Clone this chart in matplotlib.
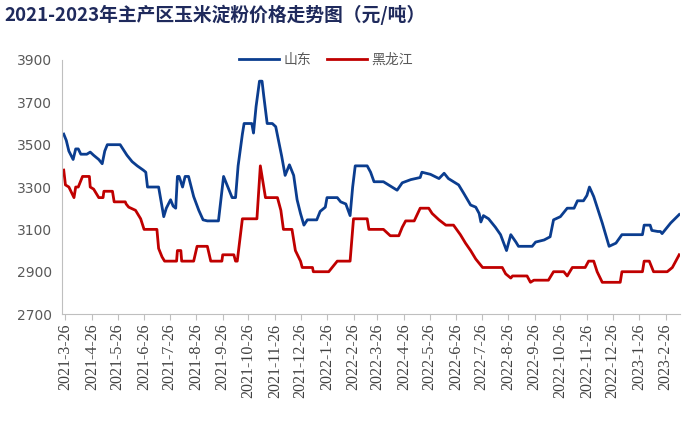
import matplotlib
matplotlib.use("Agg")
import matplotlib.pyplot as plt
import pandas as pd

plt.rcParams['font.family'] = ['Noto Sans CJK SC', 'DejaVu Sans']

title = "2021-2023年主产区玉米淀粉价格走势图（元/吨）"
series_names = ["山东", "黑龙江"]

sd_dates = ["2021-03-24", "2021-03-27", "2021-03-30", "2021-04-04", "2021-04-07", "2021-04-10",
            "2021-04-13", "2021-04-20", "2021-04-24", "2021-04-28", "2021-05-04", "2021-05-08",
            "2021-05-11", "2021-05-14", "2021-05-29", "2021-06-06", "2021-06-12", "2021-06-18",
            "2021-06-25", "2021-06-28", "2021-06-30", "2021-07-13", "2021-07-19", "2021-07-22",
            "2021-07-27", "2021-07-30", "2021-08-02", "2021-08-04", "2021-08-06", "2021-08-10",
            "2021-08-13", "2021-08-17", "2021-08-23", "2021-08-29", "2021-09-03", "2021-09-08",
            "2021-09-21", "2021-09-27", "2021-10-07", "2021-10-11", "2021-10-14", "2021-10-19",
            "2021-10-21", "2021-10-30", "2021-11-01", "2021-11-04", "2021-11-08", "2021-11-11",
            "2021-11-13", "2021-11-17", "2021-11-23", "2021-11-27", "2021-12-01", "2021-12-04",
            "2021-12-08", "2021-12-13", "2021-12-18", "2021-12-22", "2021-12-26", "2021-12-30",
            "2022-01-03", "2022-01-14", "2022-01-18", "2022-01-24", "2022-01-26", "2022-02-07",
            "2022-02-11", "2022-02-17", "2022-02-22", "2022-02-25", "2022-02-28", "2022-03-14",
            "2022-03-18", "2022-03-22", "2022-04-02", "2022-04-12", "2022-04-18", "2022-04-24",
            "2022-05-04", "2022-05-15", "2022-05-17", "2022-05-27", "2022-06-06", "2022-06-12",
            "2022-06-17", "2022-06-23", "2022-06-29", "2022-07-05", "2022-07-13", "2022-07-19",
            "2022-07-23", "2022-07-25", "2022-07-28", "2022-08-03", "2022-08-11", "2022-08-17",
            "2022-08-24", "2022-08-29", "2022-09-04", "2022-09-07", "2022-09-23", "2022-09-27",
            "2022-10-07", "2022-10-14", "2022-10-18", "2022-10-26", "2022-11-03", "2022-11-11",
            "2022-11-15", "2022-11-22", "2022-11-26", "2022-11-29", "2022-12-04", "2022-12-08",
            "2022-12-14", "2022-12-18", "2022-12-22", "2022-12-30", "2023-01-06", "2023-01-30",
            "2023-02-01", "2023-02-08", "2023-02-10", "2023-02-17", "2023-02-20", "2023-02-22",
            "2023-03-04", "2023-03-14"]
sd_values = [3550, 3520, 3470, 3430, 3480, 3480,
             3455, 3455, 3465, 3450, 3430, 3410,
             3470, 3500, 3500, 3450, 3420, 3400,
             3380, 3370, 3300, 3300, 3160, 3200,
             3240, 3210, 3200, 3350, 3350, 3300,
             3350, 3350, 3255, 3190, 3145, 3140,
             3140, 3350, 3250, 3250, 3400, 3550,
             3600, 3600, 3555, 3680, 3800, 3800,
             3730, 3600, 3600, 3585, 3505, 3445,
             3355, 3405, 3355, 3240, 3175, 3120,
             3145, 3145, 3185, 3205, 3250, 3250,
             3230, 3220, 3165, 3300, 3400, 3400,
             3370, 3325, 3325, 3300, 3285, 3320,
             3335, 3345, 3370, 3360, 3340, 3365,
             3340, 3325, 3310, 3270, 3215, 3205,
             3175, 3135, 3165, 3150, 3110, 3075,
             3000, 3075, 3040, 3020, 3020, 3040,
             3050, 3065, 3145, 3160, 3200, 3200,
             3235, 3235, 3260, 3300, 3255, 3205,
             3130, 3075, 3020, 3035, 3075, 3075,
             3120, 3120, 3095, 3090, 3090, 3080,
             3130, 3170]

hlj_dates = ["2021-03-24", "2021-03-26", "2021-03-30", "2021-04-05", "2021-04-07", "2021-04-10",
             "2021-04-15", "2021-04-23", "2021-04-24", "2021-04-28", "2021-05-04", "2021-05-09",
             "2021-05-10", "2021-05-20", "2021-05-22", "2021-06-04", "2021-06-05", "2021-06-08",
             "2021-06-16", "2021-06-22", "2021-06-26", "2021-07-11", "2021-07-13", "2021-07-17",
             "2021-07-20", "2021-08-03", "2021-08-04", "2021-08-08", "2021-08-09", "2021-08-23",
             "2021-08-27", "2021-09-08", "2021-09-12", "2021-09-25", "2021-09-26", "2021-10-09",
             "2021-10-11", "2021-10-13", "2021-10-19", "2021-11-05", "2021-11-09", "2021-11-15",
             "2021-11-29", "2021-12-03", "2021-12-06", "2021-12-16", "2021-12-20", "2021-12-26",
             "2021-12-28", "2022-01-09", "2022-01-10", "2022-01-28", "2022-02-07", "2022-02-22",
             "2022-02-26", "2022-03-14", "2022-03-16", "2022-04-02", "2022-04-10", "2022-04-20",
             "2022-04-24", "2022-04-28", "2022-05-08", "2022-05-15", "2022-05-25", "2022-05-29",
             "2022-06-06", "2022-06-14", "2022-06-23", "2022-07-01", "2022-07-07", "2022-07-13",
             "2022-07-19", "2022-07-27", "2022-08-19", "2022-08-23", "2022-08-29", "2022-08-31",
             "2022-09-17", "2022-09-21", "2022-09-25", "2022-10-12", "2022-10-18", "2022-10-30",
             "2022-11-03", "2022-11-09", "2022-11-24", "2022-11-28", "2022-12-04", "2022-12-08",
             "2022-12-14", "2023-01-04", "2023-01-06", "2023-01-30", "2023-02-01", "2023-02-07",
             "2023-02-10", "2023-02-12", "2023-02-28", "2023-03-06", "2023-03-14"]
hlj_values = [3380, 3310, 3300, 3250, 3300, 3300,
              3350, 3350, 3300, 3290, 3250, 3250,
              3280, 3280, 3230, 3230, 3220, 3205,
              3190, 3150, 3100, 3100, 3010, 2970,
              2950, 2950, 3000, 3000, 2950, 2950,
              3020, 3020, 2950, 2950, 2980, 2980,
              2950, 2950, 3150, 3150, 3400, 3250,
              3250, 3190, 3100, 3100, 3000, 2950,
              2920, 2920, 2900, 2900, 2950, 2950,
              3150, 3150, 3100, 3100, 3070, 3070,
              3110, 3140, 3140, 3200, 3200, 3175,
              3145, 3120, 3120, 3075, 3035, 3000,
              2960, 2920, 2920, 2890, 2870, 2880,
              2880, 2850, 2860, 2860, 2900, 2900,
              2880, 2920, 2920, 2950, 2950, 2900,
              2850, 2850, 2900, 2900, 2950, 2950,
              2920, 2900, 2900, 2920, 2980]

tick_labels = ["2021-3-26", "2021-4-26", "2021-5-26", "2021-6-26", "2021-7-26", "2021-8-26",
               "2021-9-26", "2021-10-26", "2021-11-26", "2021-12-26", "2022-1-26", "2022-2-26",
               "2022-3-26", "2022-4-26", "2022-5-26", "2022-6-26", "2022-7-26", "2022-8-26",
               "2022-9-26", "2022-10-26", "2022-11-26", "2022-12-26", "2023-1-26", "2023-2-26"]
y_ticks = [2700, 2900, 3100, 3300, 3500, 3700, 3900]

fig = plt.figure(figsize=(7.0, 4.21), dpi=100)
ax = fig.add_axes([0.0886, 0.254, 0.8829, 0.6035])

blue = "#0B3D8F"
red = "#C00000"
ax.plot(pd.to_datetime(sd_dates), sd_values, color=blue, lw=2.0, label=series_names[0])
ax.plot(pd.to_datetime(hlj_dates), hlj_values, color=red, lw=2.0, label=series_names[1])

ax.set_ylim(2700, 3900)
ax.set_yticks(y_ticks)
ax.set_xlim(pd.Timestamp("2021-03-22"), pd.Timestamp("2023-03-15"))

for s in ["top", "right"]:
    ax.spines[s].set_visible(False)
ax.spines["left"].set_color("#BFBFBF")
ax.spines["bottom"].set_color("#BFBFBF")
ax.tick_params(axis="y", length=0, pad=7, labelsize=10, labelcolor="#595959",
               labelfontfamily="DejaVu Sans")

fig.text(0.007, 0.965, title, fontsize=13.5, fontweight="bold", color="#1F2A5C",
         va="center", ha="left")

leg = ax.legend(loc="center", bbox_to_anchor=(0.427, 1.0), ncol=2, frameon=False,
                handlelength=2.9, columnspacing=1.1, handletextpad=0.3,
                prop={"family": ["Noto Sans CJK SC"], "size": 10})
for t in leg.get_texts():
    t.set_color("#595959")

tick_dates = pd.to_datetime(tick_labels, format="%Y-%m-%d")
ax.set_xticks(tick_dates)
ax.set_xticklabels(tick_labels)
ax.tick_params(axis="x", length=4, color="#BFBFBF", pad=3, labelsize=11.5,
               labelcolor="#404040", labelfontfamily="Liberation Serif", labelrotation=90)

fig.savefig("out.png", dpi=100)
